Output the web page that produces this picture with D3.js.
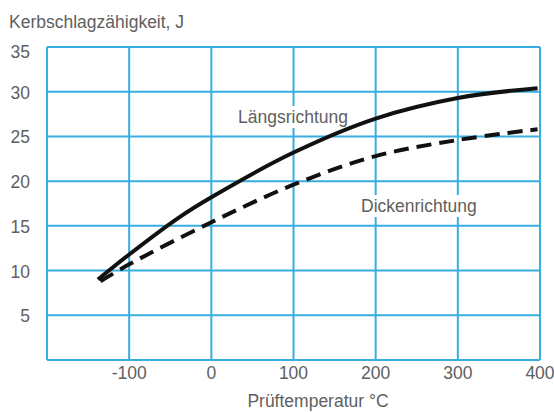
<!DOCTYPE html>
<html>
<head>
<meta charset="utf-8">
<script src="https://cdn.jsdelivr.net/npm/d3@7"></script>
<style>
  body { margin: 0; background: #fff; }
  text { font-family: "Liberation Sans", Arial, sans-serif; fill: #606060; }
</style>
</head>
<body>
<svg width="554" height="412"></svg>
<script>
// values
const xTicks = [-100, 0, 100, 200, 300, 400]
const yTicks = [5, 10, 15, 20, 25, 30, 35]
const laengsX = [-138, -100, -40, 0, 100, 200, 300, 397]
const laengsY = [9.0, 11.8, 15.9, 18.2, 23.2, 27.0, 29.3, 30.4]
const dickeX = [-135, -100, 0, 100, 200, 300, 397]
const dickeY = [8.8, 10.7, 15.4, 19.6, 22.8, 24.6, 25.8]

let svg = d3.select("svg"),
    margin = {top: 47, right: 14, bottom: 52, left: 47},
    width = +svg.attr("width") - margin.left - margin.right,
    height = +svg.attr("height") - margin.top - margin.bottom

const gridColor = "#38ade0"
const fs = "17.5px"

let x = d3.scaleLinear().domain([-200, 400]).range([margin.left, margin.left + width])
let y = d3.scaleLinear().domain([0, 35]).range([margin.top + height, margin.top])

let grid = svg.append("g")
grid.selectAll("line.v")
    .data([-200].concat(xTicks))
    .enter()
    .append("line")
    .attr("x1", d => x(d)).attr("x2", d => x(d))
    .attr("y1", y(0)).attr("y2", y(35))
    .attr("stroke", gridColor).attr("stroke-width", 2)
grid.selectAll("line.h")
    .data([0].concat(yTicks))
    .enter()
    .append("line")
    .attr("x1", x(-200)).attr("x2", x(400))
    .attr("y1", d => y(d)).attr("y2", d => y(d))
    .attr("stroke", gridColor).attr("stroke-width", 2)

// tick labels
svg.selectAll("text.xt")
    .data(xTicks)
    .enter()
    .append("text")
    .attr("x", d => x(d))
    .attr("y", 379)
    .attr("text-anchor", "middle")
    .style("font-size", fs)
    .text(d => d)

svg.selectAll("text.yt")
    .data(yTicks)
    .enter()
    .append("text")
    .attr("x", 30)
    .attr("y", d => y(d) + (d === 35 ? 11 : 7))
    .attr("text-anchor", "end")
    .style("font-size", fs)
    .text(d => d)

svg.append("text")
    .attr("x", 9).attr("y", 28)
    .style("font-size", fs)
    .text("Kerbschlagzähigkeit, J")

svg.append("text")
    .attr("x", 318).attr("y", 407)
    .attr("text-anchor", "middle")
    .style("font-size", fs)
    .text("Prüftemperatur °C")

// curve labels with white boxes over the grid
function label(txt, lx, ly) {
    let g = svg.append("g")
    let rect = g.append("rect").attr("fill", "#fff")
    let t = g.append("text")
        .attr("x", lx).attr("y", ly)
        .style("font-size", fs)
        .text(txt)
    let b = t.node().getBBox()
    rect.attr("x", b.x - 4).attr("y", b.y - 1)
        .attr("width", b.width + 8).attr("height", b.height + 2)
}
label("Längsrichtung", 238, 123)
label("Dickenrichtung", 361, 212)

let line = d3.line()
    .x(d => x(d[0]))
    .y(d => y(d[1]))
    .curve(d3.curveCatmullRom.alpha(0.5))

svg.append("path")
    .attr("d", line(d3.zip(laengsX, laengsY)))
    .attr("fill", "none")
    .attr("stroke", "#111")
    .attr("stroke-width", 4)

svg.append("path")
    .attr("d", line(d3.zip(dickeX, dickeY)))
    .attr("fill", "none")
    .attr("stroke", "#111")
    .attr("stroke-width", 4)
    .attr("stroke-dasharray", "15,8")
</script>
</body>
</html>
